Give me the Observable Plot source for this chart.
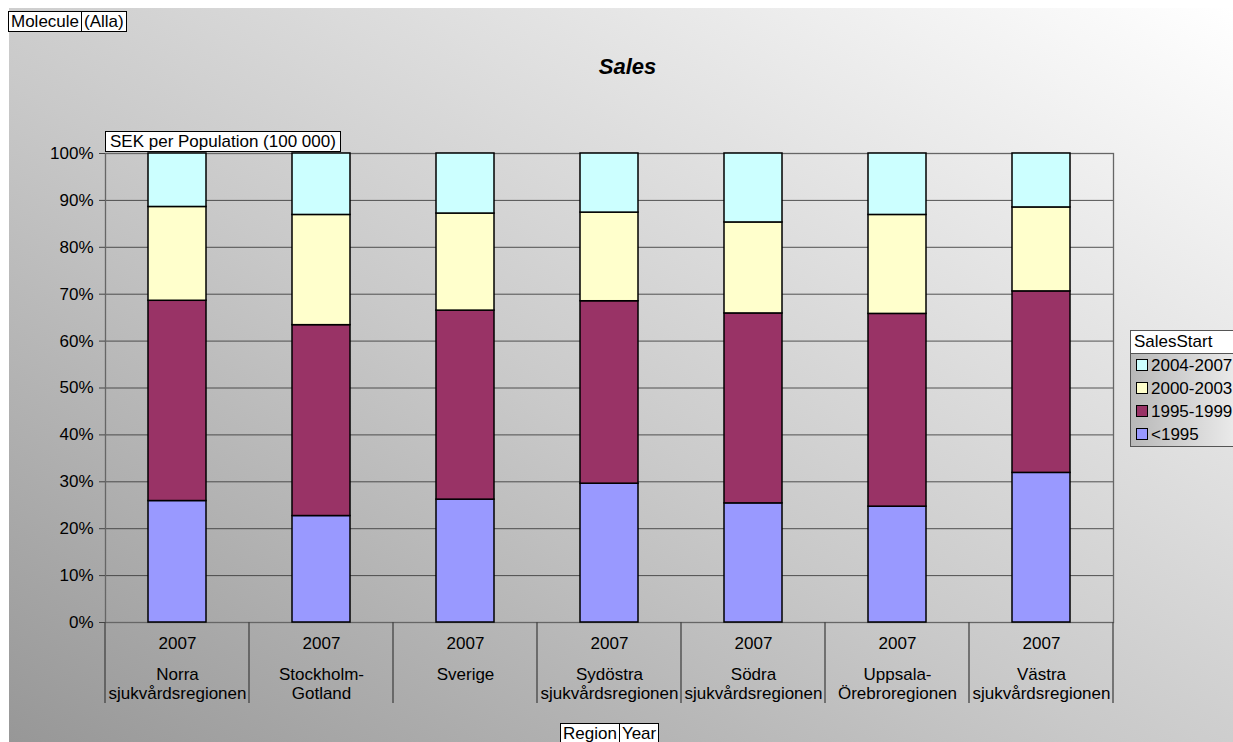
<!DOCTYPE html>
<html>
<head>
<meta charset="utf-8">
<script src="https://cdn.jsdelivr.net/npm/d3@7"></script>
<script src="https://cdn.jsdelivr.net/npm/@observablehq/plot@0.6"></script>
<style>
  html, body { margin: 0; padding: 0; background: #fff; overflow: hidden; }
  #wrap { position: relative; width: 1233px; height: 742px; overflow: hidden; font-family: "Liberation Sans", Arial, sans-serif; color: #000; }
  #bg { position: absolute; left: 9px; top: 8px; right: 0; bottom: 0; background: linear-gradient(to top right, #979797 0%, #c9c9c9 45%, #ffffff 100%); }
  #chart { position: absolute; left: 0; top: 0; }
  .boxes { position: absolute; display: flex; }
  .box { background: #fff; border: 1px solid #000; font-size: 17px; line-height: 19px; padding: 0 2px; white-space: nowrap; }
  .box + .box { border-left: none; }
  #title { position: absolute; left: 0; width: 1255px; top: 54px; text-align: center; font-weight: bold; font-style: italic; font-size: 22px; }
  #legend { position: absolute; left: 1130px; top: 330px; width: 120px; border: 1px solid #555; background: linear-gradient(to right, #b8b8b8, #f2f2f2); font-size: 17px; }
  #legend .head { background: #fff; border-bottom: 1px solid #555; padding: 1px 3px; height: 20px; line-height: 20px; }
  #legend .item { height: 23px; line-height: 23px; padding-left: 5px; white-space: nowrap; }
  #legend .sw { display: inline-block; width: 10px; height: 10px; border: 1px solid #000; margin-right: 3px; vertical-align: 0px; }
</style>
</head>
<body>
<div id="wrap">
  <div id="bg"></div>
  <div id="chart"></div>
  <div id="title">Sales</div>
  <div class="boxes" style="left:8px; top:11px;"><div class="box">Molecule</div><div class="box">(Alla)</div></div>
  <div class="boxes" style="left:105px; top:131px;"><div class="box" style="padding:0 4px;">SEK per Population (100 000)</div></div>
  <div class="boxes" style="left:560px; top:723px;"><div class="box">Region</div><div class="box">Year</div></div>
  <div id="legend"></div>
</div>
<script>
// ---- data ----
const regions = [
  "Norra\nsjukvårdsregionen",
  "Stockholm-\nGotland",
  "Sverige",
  "Sydöstra\nsjukvårdsregionen",
  "Södra\nsjukvårdsregionen",
  "Uppsala-\nÖrebroregionen",
  "Västra\nsjukvårdsregionen"
];
const years = ["2007", "2007", "2007", "2007", "2007", "2007", "2007"];
const series = ["<1995", "1995-1999", "2000-2003", "2004-2007"];
const colors = ["#9999ff", "#993366", "#ffffcc", "#ccffff"];
// shares (%) per region, per series
const before1995 = [25.9, 22.7, 26.2, 29.6, 25.4, 24.7, 31.9];
const s1995_1999 = [42.7, 40.7, 40.3, 38.9, 40.5, 41.1, 38.7];
const s2000_2003 = [20.0, 23.5, 20.7, 18.9, 19.4, 21.1, 17.9];
const s2004_2007 = [11.4, 13.1, 12.8, 12.6, 14.7, 13.1, 11.5];
const yTicks = [0, 0.1, 0.2, 0.3, 0.4, 0.5, 0.6, 0.7, 0.8, 0.9, 1.0];
const legendOrder = ["2004-2007", "2000-2003", "1995-1999", "<1995"];

const valuesBySeries = [before1995, s1995_1999, s2000_2003, s2004_2007];
const data = [];
series.forEach((s, si) => {
  regions.forEach((r, ri) => {
    data.push({region: r, year: years[ri], series: s, value: valuesBySeries[si][ri]});
  });
});
const labelData = regions.map((r, i) => ({region: r, year: years[i]}));

// category separators drawn from the band scale
function separators(index, scales, values, dimensions) {
  const x = scales.x;
  const step = x.step ? x.step() : x.bandwidth() / 0.4;
  const bw = x.bandwidth();
  const pad = (step - bw) / 2;
  const top = dimensions.height - dimensions.marginBottom;
  const g = d3.create("svg:g");
  const edges = regions.map(r => x(r) - pad);
  edges.push(x(regions[regions.length - 1]) + bw + pad);
  edges.forEach(e => {
    g.append("line")
      .attr("x1", e).attr("x2", e)
      .attr("y1", top).attr("y2", top + 81)
      .attr("stroke", "#444").attr("stroke-width", 1.3);
  });
  return g.node();
}

const chart = Plot.plot({
  width: 1233,
  height: 742,
  marginLeft: 105,
  marginRight: 120,
  marginTop: 153,
  marginBottom: 120,
  style: {background: "transparent", fontFamily: "'Liberation Sans', Arial, sans-serif", fontSize: "17px", color: "#000"},
  x: {domain: regions, paddingInner: 0.6, paddingOuter: 0.3, axis: null},
  y: {domain: [0, 1], axis: null},
  color: {domain: series, range: colors},
  marks: [
    Plot.gridY(yTicks, {stroke: "#3a3a3a", strokeOpacity: 0.85, strokeWidth: 1}),
    Plot.frame({stroke: "#666", strokeWidth: 1.3}),
    Plot.barY(data, Plot.stackY({
      x: "region", y: "value", fill: "series",
      order: series, offset: "normalize",
      stroke: "#000", strokeWidth: 1.5
    })),
    Plot.axisY(yTicks, {
      tickFormat: d3.format(".0%"), tickSize: 6, tickPadding: 6, label: null,
      stroke: "#444", fontSize: 17, fill: "#000"
    }),
    separators,
    Plot.text(labelData, {x: "region", text: "year", frameAnchor: "bottom", lineAnchor: "middle", dy: 21, fontSize: 17, fill: "#000"}),
    Plot.text(labelData, {x: "region", text: "region", frameAnchor: "bottom", lineAnchor: "top", dy: 44, lineHeight: 1.12, fontSize: 17, fill: "#000"})
  ]
});
document.getElementById("chart").appendChild(chart);

// legend
const legend = document.getElementById("legend");
const head = document.createElement("div");
head.className = "head";
head.textContent = "SalesStart";
legend.appendChild(head);
legendOrder.forEach(s => {
  const item = document.createElement("div");
  item.className = "item";
  const sw = document.createElement("span");
  sw.className = "sw";
  sw.style.background = colors[series.indexOf(s)];
  item.appendChild(sw);
  item.appendChild(document.createTextNode(s));
  legend.appendChild(item);
});
</script>
</body>
</html>
